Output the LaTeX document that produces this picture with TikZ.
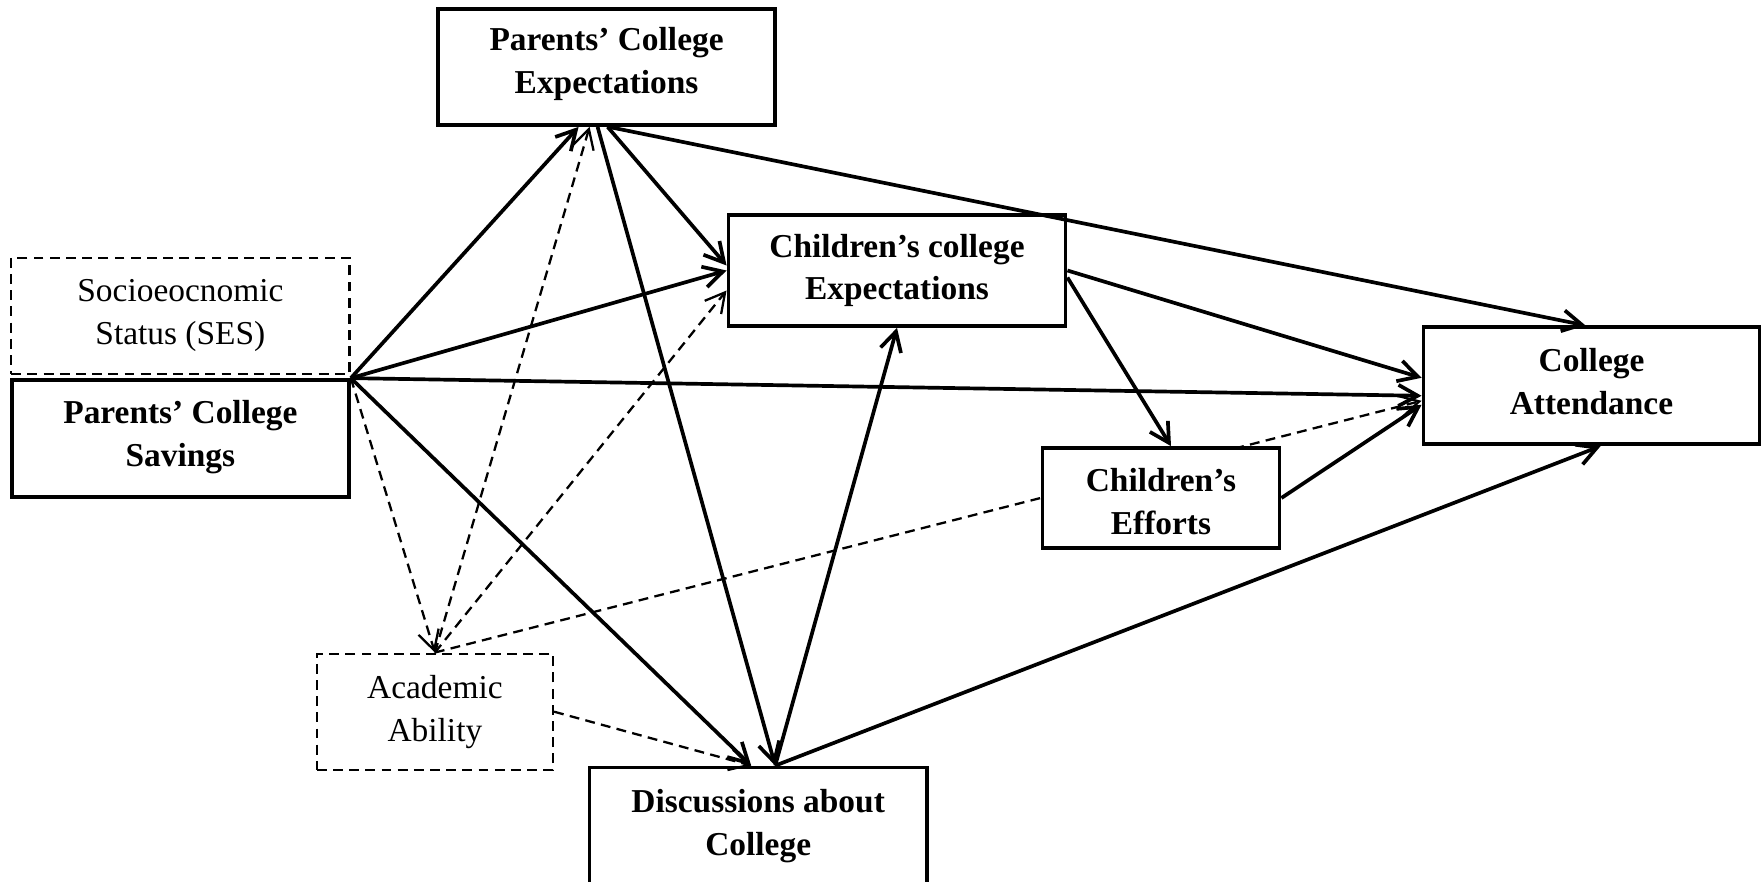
\documentclass[tikz,border=0pt]{standalone}
\usepackage{fontspec}
\setmainfont{Liberation Serif}
\usepackage{tikz}
\usetikzlibrary{arrows.meta, positioning}

\begin{document}
\begin{tikzpicture}[
    x=0.01cm, y=-0.01cm,
    box/.style={draw, line width=1.05pt, fill=white, align=center, inner sep=0pt,
        font=\fontsize{9.5}{12.2}\selectfont\bfseries,
        minimum width=3.37cm, minimum height=1.16cm},
    dbox/.style={box, line width=0.65pt, dash pattern=on 2.8pt off 1.8pt,
        font=\fontsize{9.5}{12.2}\selectfont},
    textup/.style={execute at end node={\rule[-#1]{0pt}{0pt}}},
    arrow/.style={-{Straight Barb[length=5.5pt, width=6pt]}, line width=1.05pt},
    darrow/.style={arrow, line width=0.65pt, dash pattern=on 2.8pt off 1.8pt}
]
    \useasboundingbox (0,0) rectangle (1763,882);
    \clip (0,0) rectangle (1763,882);

    % Boxes
    \node [box, textup=4pt] (pce) at (606.6, 67) {Parents’ College\\Expectations};
    \node [dbox, minimum width=3.38cm] (ses) at (180.4, 315.8) {Socioeocnomic\\Status (SES)};
    \node [box, minimum height=1.17cm, textup=3pt] (pcs) at (180.4, 438.5) {Parents’ College\\Savings};
    \node [box, minimum height=1.11cm] (cce) at (897, 270.5) {Children’s college\\Expectations};
    \node [box, minimum width=3.36cm, minimum height=1.17cm, textup=2.6pt] (ca) at (1591.5, 385.8) {College\\Attendance};
    \node [dbox, minimum width=2.36cm, textup=1.2pt] (aa) at (434.9, 711.7) {Academic\\Ability};
    \node [box, minimum height=1.17cm, textup=1.2pt] (dac) at (758.2, 826) {Discussions about\\College};

    % Ability to attendance, runs behind the efforts box
    \draw[darrow] (aa.north) -- ([yshift=-0.15cm]ca.west);

    \node [box, minimum width=2.37cm, minimum height=1.0cm] (ce) at (1161, 498) {\rule{0pt}{8.4pt}Children’s\\Efforts};

    % From savings
    \draw[arrow] (pcs.north east) -- ([xshift=-0.28cm]pce.south);
    \draw[arrow] (pcs.north east) -- (cce.west);
    \draw[arrow] (pcs.north east) -- ([yshift=-0.1cm]ca.west);
    \draw[arrow] (pcs.north east) -- ([xshift=-0.07cm]dac.north);
    \draw[darrow] (pcs.north east) -- (aa.north);

    % From academic ability
    \draw[darrow] (aa.north) -- ([xshift=-0.17cm]pce.south);
    \draw[darrow] (aa.north) -- ([yshift=-0.2cm]cce.west);
    \draw[darrow] (aa.east) -- ([xshift=-0.07cm]dac.north);

    % From parents' expectations
    \draw[arrow] ([xshift=0.01cm]pce.south) -- ([yshift=0.05cm]cce.west);
    \draw[arrow] ([xshift=-0.09cm]pce.south) -- ([xshift=0.17cm]dac.north);
    \draw[arrow] ([xshift=0.02cm]pce.south) -- ([xshift=-0.06cm]ca.north);

    % From children's expectations
    \draw[arrow] (cce.east) -- ([yshift=0.08cm]ca.west);
    \draw[arrow] ([yshift=-0.07cm]cce.east) -- ([xshift=0.1cm]ce.north);

    % From discussions
    \draw[arrow] ([xshift=0.17cm]dac.north) -- (cce.south);
    \draw[arrow] ([xshift=0.17cm]dac.north) -- ([xshift=0.09cm]ca.south);

    % From efforts
    \draw[arrow] (ce.east) -- ([yshift=-0.19cm]ca.west);

\end{tikzpicture}
\end{document}
